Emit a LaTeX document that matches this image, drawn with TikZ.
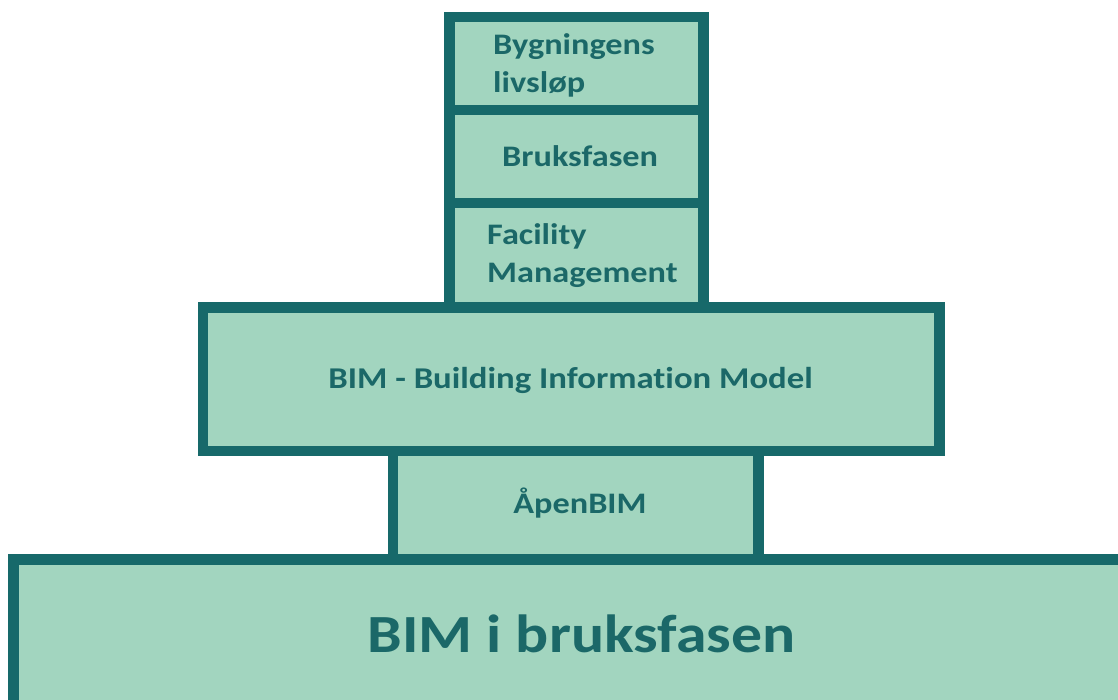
\documentclass[tikz,border=0pt]{standalone}
\usepackage{fontspec}
\setmainfont[FakeStretch=1.15, Ligatures=NoCommon]{Carlito}
\definecolor{tealline}{HTML}{17696A}
\definecolor{mintfill}{HTML}{A2D5BF}
\definecolor{tealtext}{HTML}{1B6868}
\begin{document}
\begin{tikzpicture}[x=1pt,y=-1pt,
  tier/.style={draw=tealline, fill=mintfill, line width=10.5pt, rectangle,
               inner sep=0pt, outer sep=0pt},
  tiertext/.style={text=tealtext, inner sep=0pt,
               font=\bfseries\fontsize{29.8}{36}\selectfont},
  midtext/.style={tiertext, font=\bfseries\fontsize{30.2}{38}\selectfont},
  basetext/.style={tiertext, font=\bfseries\fontsize{53.7}{64}\selectfont},
]
\useasboundingbox (0,0) rectangle (1118,700);
\clip (0,0) rectangle (1118,700);

% stacked tiers, from the base upwards
\node[tier, minimum width=1109.5pt, minimum height=150.5pt] (base) at (568.25,634.75) {};
\node[tier, minimum width=365.5pt,  minimum height=108.5pt] (open) at (575.75,505.25) {};
\node[tier, minimum width=736.5pt,  minimum height=143.5pt] (bim)  at (571.25,379.25) {};
\node[tier, minimum width=254pt,    minimum height=104.5pt] (fm)   at (576.5,255.25) {};
\node[tier, minimum width=254pt,    minimum height=93pt]    (use)  at (576.5,156.5) {};
\node[tier, minimum width=254pt,    minimum height=93pt]    (life) at (576.5,63.5) {};

% labels
\node[tiertext, anchor=base west] (lifeA) at (493,55) {Bygningens};
\node[tiertext, anchor=base west] (lifeB) at (493,93) {livsløp};
\node[tiertext, anchor=base west] (useA)  at (502,167) {Bruksfasen};
\node[tiertext, anchor=base west] (fmA)   at (487,245) {Facility};
\node[tiertext, anchor=base west] (fmB)   at (487,283) {Management};
\node[midtext,  anchor=base] (bimA)  at (570.5,388) {BIM - Building Information Model};
\node[tiertext, anchor=base] (openA) at (580,513) {ÅpenBIM};
\node[basetext, anchor=base] (baseA) at (581.5,652) {BIM i bruksfasen};
\end{tikzpicture}
\end{document}
